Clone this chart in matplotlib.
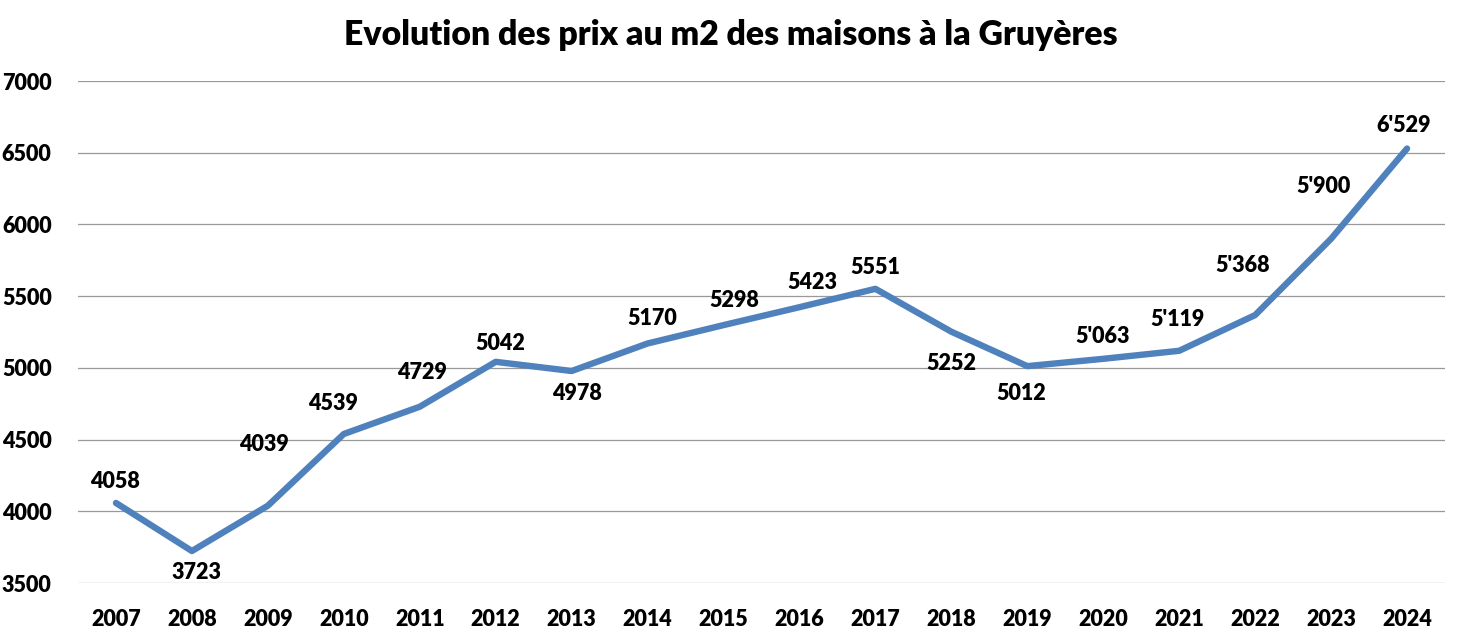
import matplotlib
matplotlib.use("Agg")
import matplotlib.pyplot as plt

# ── data ─────────────────────────────────────────────────────────────────────
years = ["2007", "2008", "2009", "2010", "2011", "2012", "2013", "2014", "2015",
         "2016", "2017", "2018", "2019", "2020", "2021", "2022", "2023", "2024"]
prices = [4058, 3723, 4039, 4539, 4729, 5042, 4978, 5170, 5298,
          5423, 5551, 5252, 5012, 5063, 5119, 5368, 5900, 6529]
labels = ["4058", "3723", "4039", "4539", "4729", "5042", "4978", "5170", "5298",
          "5423", "5551", "5252", "5012", "5'063", "5'119", "5'368", "5'900", "6'529"]

# label offsets in pixels (dx, dy) relative to each point
offsets = [(-1, 21), (5, -21), (-4, 61), (-11, 30), (2, 34), (5, 18), (5, -22),
           (5, 25), (11, 25), (13, 25), (0, 21), (0, -32), (-6, -27), (-1, 22),
           (-2, 31), (-12, 50), (-8, 52), (-3, 23)]

BLUE = "#4F81BD"
GRID = "#999999"

plt.rcParams["font.family"] = ["Lato", "DejaVu Sans"]

fig = plt.figure(figsize=(14.61, 6.39), dpi=100)
ax = fig.add_axes([78 / 1461, 1 - 583 / 639, (1445 - 78) / 1461, (583 - 81) / 639])

x = list(range(len(years)))
ax.plot(x, prices, color=BLUE, lw=4.6, solid_capstyle="round",
        solid_joinstyle="round", zorder=3)

for xi, p, lab, (dx, dy) in zip(x, prices, labels, offsets):
    ax.annotate(lab, (xi, p), xytext=(dx, dy), textcoords="offset pixels",
                ha="center", va="center", fontsize=15.5, fontweight="heavy",
                color="black")

ax.set_xlim(-0.5, len(years) - 0.5)
ax.set_ylim(3500, 7000)
ax.set_yticks(range(3500, 7001, 500))
ax.set_xticks(x)
ax.set_xticklabels(years)
ax.yaxis.grid(True, color=GRID, lw=0.9)
ax.set_axisbelow(True)
for s in ax.spines.values():
    s.set_visible(False)
ax.tick_params(length=0, labelsize=15.5)
ax.tick_params(axis="x", pad=19)
ax.tick_params(axis="y", pad=19)
for t in ax.get_xticklabels() + ax.get_yticklabels():
    t.set_fontweight("heavy")

fig.text(0.5, 1 - 35 / 639, "Evolution des prix au m2 des maisons à la Gruyères",
         ha="center", va="center", fontsize=24.3, fontweight="heavy")

fig.savefig("out.png", dpi=100)
